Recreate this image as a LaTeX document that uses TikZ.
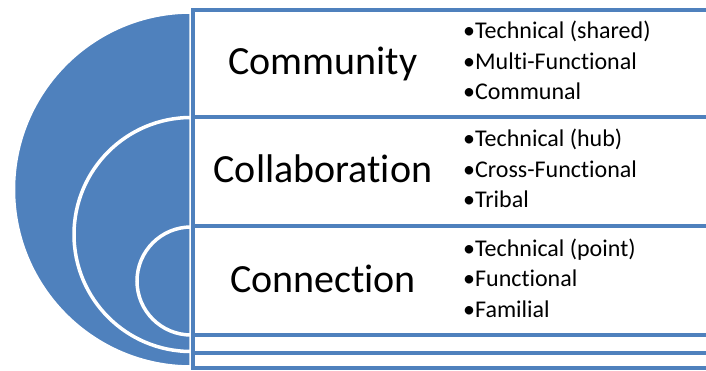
\documentclass[tikz,border=0pt]{standalone}
\usepackage{fontspec}
\setmainfont{Carlito}[Ligatures=NoCommon]
\usetikzlibrary{positioning}
\definecolor{ringblue}{HTML}{4F81BD}

\begin{document}
\begin{tikzpicture}[x=1pt,y=-1pt,
  ring/.style={fill=ringblue,draw=white,line width=3.5pt},
  band/.style={draw=ringblue,fill=white,line width=4pt},
  level/.style={font=\fontsize{40}{48}\selectfont,anchor=base,inner sep=0pt},
  items/.style={font=\fontsize{24}{30.5}\selectfont,align=left,anchor=base west,inner sep=0pt}]
  \clip (0,0) rectangle (706,371);
  % outer ring and band
  \draw[ring] (191,367) arc[start angle=90,end angle=270,radius=177.5] -- cycle;
  \draw[band] (192.5,10) rectangle (712,368);
  % middle ring and band
  \draw[ring] (191,351.5) arc[start angle=90,end angle=270,radius=117] -- cycle;
  \draw[band] (192.5,117) rectangle (712,353);
  % inner ring and band
  \draw[ring] (191,335) arc[start angle=90,end angle=270,radius=54] -- cycle;
  \draw[band] (192.5,226) rectangle (712,335);

  \node[level] (community) at (323,75)  {Community};
  \node[level] (collab)    at (323,183) {Collaboration};
  \node[level] (connect)   at (323,292) {Connection};

  % lists sit on the baseline of their last line
  \node[items] (communitylist) at (463,100) {•Technical (shared)\\•Multi-Functional\\•Communal};
  \node[items] (collablist)    at (463,208) {•Technical (hub)\\•Cross-Functional\\•Tribal};
  \node[items] (connectlist)   at (463,317) {•Technical (point)\\•Functional\\•Familial};
\end{tikzpicture}
\end{document}
